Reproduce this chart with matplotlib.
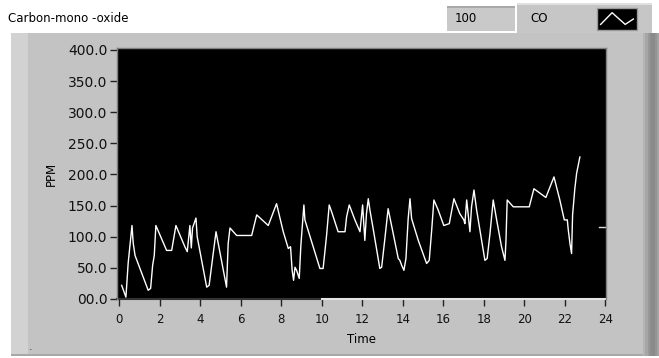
import numpy as np
import matplotlib.pyplot as plt
from matplotlib.patches import Rectangle

# CO reading (PPM) against time
time = [0.11, 0.32, 0.36, 0.43, 0.52, 0.62, 0.68, 0.77, 1.42, 1.54, 1.64, 1.72, 1.80,
        2.33, 2.58, 2.79, 3.23, 3.35, 3.48, 3.55, 3.61, 3.78, 3.84, 4.31, 4.43, 4.77,
        5.29, 5.37, 5.46, 5.79, 6.53, 6.78, 7.35, 7.76, 8.09, 8.34, 8.45, 8.53, 8.60,
        8.67, 8.75, 8.88, 8.96, 9.11, 9.16, 9.90, 10.06, 10.23, 10.36, 10.48, 10.80,
        11.14, 11.22, 11.35, 11.63, 11.88, 12.01, 12.12, 12.20, 12.29, 12.37, 12.53,
        12.86, 12.95, 13.11, 13.27, 13.44, 13.77, 13.85, 13.94, 14.05, 14.15, 14.26,
        14.35, 14.43, 14.76, 15.17, 15.30, 15.42, 15.53, 15.74, 16.02, 16.29, 16.52,
        16.81, 17.01, 17.06, 17.15, 17.22, 17.31, 17.39, 17.51, 17.64, 18.05, 18.16,
        18.30, 18.46, 18.63, 18.87, 19.04, 19.09, 19.15, 19.45, 20.24, 20.47, 21.06,
        21.46, 21.75, 21.97, 22.12, 22.16, 22.25, 22.33, 22.38, 22.49, 22.58, 22.74]
ppm = [22, 3, 22, 57, 86, 118, 90, 70, 14, 17, 54, 70, 118,
       78, 78, 118, 84, 76, 118, 82, 114, 130, 100, 19, 22, 108,
       19, 89, 114, 102, 102, 135, 118, 153, 108, 81, 84, 46, 30,
       51, 46, 33, 86, 151, 127, 49, 49, 102, 151, 140, 108,
       108, 132, 151, 127, 108, 151, 94, 137, 161, 143, 113,
       49, 51, 97, 145, 118, 65, 62, 54, 46, 65, 129,
       161, 129, 94, 57, 62, 110, 159, 143, 118, 121, 161,
       137, 127, 121, 159, 137, 108, 148, 175, 143, 62, 65,
       105, 159, 127, 84, 62, 94, 159, 148, 148, 177, 163,
       196, 159, 127, 127, 113, 89, 73, 135, 177, 202, 228]

x_ticks = list(range(0, 25, 2))
y_ticks = list(range(0, 401, 50))
y_labels = ["00.0"] + [f"{v:.1f}" for v in y_ticks[1:]]
cursor_level = 115

W, H = 659, 358
fig = plt.figure(figsize=(W / 100, H / 100), dpi=100, facecolor="white")


def box(x0, y0, x1, y1, **kw):
    # rectangle given in pixel coordinates, origin top-left, kept behind the axes
    fig.patches.append(Rectangle((x0 / W, 1 - y1 / H), (x1 - x0) / W, (y1 - y0) / H,
                                 transform=fig.transFigure, zorder=-10, **kw))


# panel frame
box(11, 33, 659, 355, facecolor="#c3c3c3", edgecolor="none")
box(11, 33, 28, 355, facecolor="#d2d2d2", edgecolor="none")
box(11, 354, 645, 356, facecolor="#a8a8a8", edgecolor="none")
for i, c in enumerate(["#b4b4b4", "#a6a6a6", "#989898", "#8c8c8c", "#8a8a8a", "#949494", "#a2a2a2"]):
    box(643 + i * 2.3, 33, 645.3 + i * 2.3, 356, facecolor=c, edgecolor="none")

# digital display and legend
box(447, 6, 515, 31, facecolor="#c9c9c9", edgecolor="none")
box(447, 6, 515, 7.5, facecolor="#a9a9a9", edgecolor="none")
box(517, 3, 652, 33, facecolor="#c6c6c6", edgecolor="none")
box(517, 3, 652, 4.5, facecolor="#e0e0e0", edgecolor="none")
box(597, 8, 637, 30, facecolor="black", edgecolor="#9a9a9a", linewidth=1)

fig.text(8 / W, 1 - 19 / H, "Carbon-mono -oxide", fontsize=8.5, va="center", ha="left")
fig.text(455 / W, 1 - 19 / H, "100", fontsize=8.5, va="center", ha="left")
fig.text(530 / W, 1 - 18 / H, "CO", fontsize=8.5, va="center", ha="left")

icon = fig.add_axes([599 / W, 1 - 28 / H, 36 / W, 18 / H])
icon.plot([0, 0.35, 0.75, 1], [0.2, 0.85, 0.2, 0.5], color="white", lw=1)
icon.set_xlim(-0.05, 1.05)
icon.set_ylim(0, 1)
icon.axis("off")

fig.text(31 / W, 1 - 347 / H, ".", fontsize=8, va="center", ha="center", color="#333333")

# chart area
ax = fig.add_axes([117 / W, 1 - 299 / H, (606 - 117) / W, (299 - 48) / H])
ax.set_facecolor("black")
ax.plot(time, ppm, color="white", lw=1)
ax.axhline(cursor_level, xmin=0.985, xmax=1.0, color="#dddddd", lw=1)
ax.set_xlim(-0.12, 24.03)
ax.set_ylim(0, 403)

ax.set_xticks(x_ticks)
ax.set_yticks(y_ticks)
ax.set_yticklabels(y_labels)
ax.tick_params(direction="out", length=5, width=1, color="#222222",
               labelcolor="#111111")
ax.tick_params(axis="y", labelsize=10, pad=2)
ax.tick_params(axis="x", labelsize=8.5, pad=5)

for side in ["top", "left", "right"]:
    ax.spines[side].set_color("#808080")
    ax.spines[side].set_linewidth(1)
ax.spines["bottom"].set_visible(False)
# lower edge of the plot: dark up to 10, light after
ax.plot([-0.12, 10], [0, 0], color="#333333", lw=1.5, transform=ax.get_xaxis_transform(), clip_on=False)
ax.plot([10, 24.03], [0, 0], color="#e4e4e4", lw=1.5, transform=ax.get_xaxis_transform(), clip_on=False)

ax.set_xlabel("Time", fontsize=8.5, labelpad=5)
ax.set_ylabel("PPM", fontsize=8.5)
ax.yaxis.set_label_coords(-0.12, 0.5)

fig.savefig("out.png", dpi=100, facecolor="white")
